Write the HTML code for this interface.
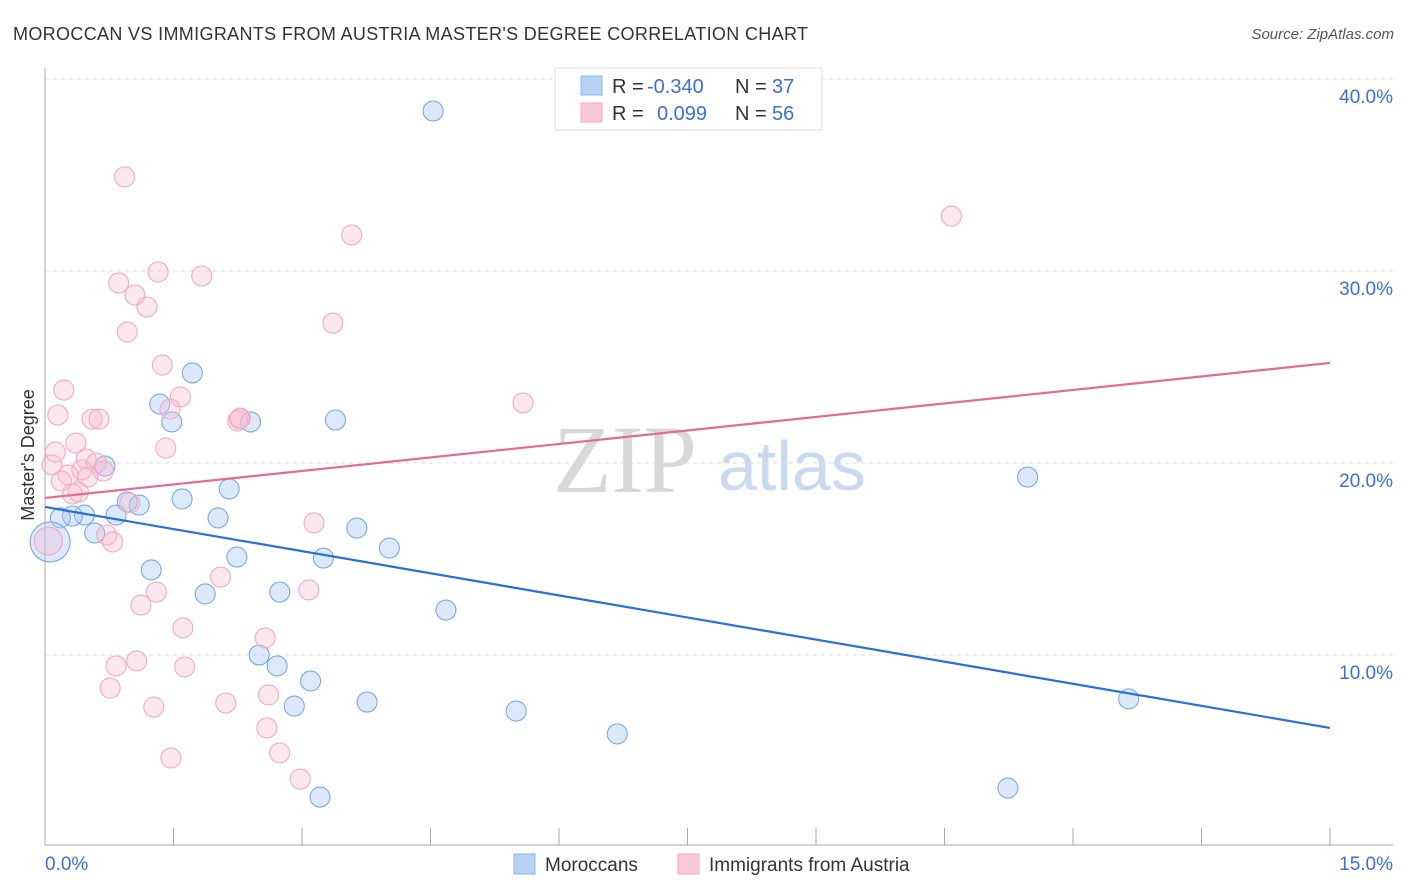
<!DOCTYPE html>
<html><head><meta charset="utf-8"><style>
body{margin:0;background:#fff;font-family:"Liberation Sans",sans-serif;}
svg{display:block}
</style></head><body>
<svg id="chart" width="1406" height="892" xmlns="http://www.w3.org/2000/svg" font-family="Liberation Sans, sans-serif">
<text x="13" y="40" font-size="18" fill="#333" textLength="795" lengthAdjust="spacing">MOROCCAN VS IMMIGRANTS FROM AUSTRIA MASTER'S DEGREE CORRELATION CHART</text>
<text x="1394" y="39" font-size="15" fill="#555" text-anchor="end" font-style="italic">Source: ZipAtlas.com</text>
<g>
<text x="553" y="492" font-size="96" font-family="Liberation Serif, serif" fill="#d8d8d8">ZIP</text>
<text x="718" y="490" font-size="70" fill="#c9daf0">atlas</text>
</g>
<g id="grid"></g>
<g id="axes"></g>
<g id="pts"></g>
<g id="lines"></g>
<g font-size="20">
<rect x="555" y="68" width="267" height="62" fill="#fff" stroke="#ddd"/>
<rect x="581" y="76" width="21" height="19" fill="#b8d2f4" stroke="#8fb4e8"/>
<rect x="581" y="103" width="21" height="19" fill="#fbc8d8" stroke="#f0a8c0"/>
<text x="612" y="93" fill="#333">R =</text>
<text x="647" y="93" fill="#3b6fd4">-0.340</text>
<text x="735" y="93" fill="#333">N =</text>
<text x="772" y="93" fill="#3b6fd4">37</text>
<text x="612" y="120" fill="#333">R =</text>
<text x="657" y="120" fill="#3b6fd4">0.099</text>
<text x="735" y="120" fill="#333">N =</text>
<text x="772" y="120" fill="#3b6fd4">56</text>
</g>
<g>
<rect x="514" y="854" width="21" height="20" fill="#b8d2f4" stroke="#8fb4e8"/>
<text x="545" y="871" font-size="19" fill="#333">Moroccans</text>
<rect x="678" y="854" width="21" height="20" fill="#fbc8d8" stroke="#f0a8c0"/>
<text x="709" y="871" font-size="19" fill="#333">Immigrants from Austria</text>
</g>
<text transform="translate(34,455) rotate(-90)" font-size="18" fill="#333" text-anchor="middle">Master's Degree</text>
</svg>
<script>
const yTicks=[10,20,30,40];
const yTickLabels=["10.0%","20.0%","30.0%","40.0%"];
const xTickLabels=["0.0%","15.0%"];
const blueX=[4.53,1.72,1.34,1.48,2.40,3.39,0.70,11.47,2.15,1.60,0.96,1.10,0.46,0.32,0.18,0.83,2.02,0.58,3.64,2.24,3.25,4.02,0.06,1.24,1.87,2.74,4.68,2.50,2.71,3.10,2.91,3.76,5.50,12.65,6.68,3.21,11.24];
const blueY=[38.33,24.69,23.07,22.14,22.14,22.24,19.84,19.27,18.65,18.13,17.97,17.81,17.29,17.24,17.14,17.29,17.14,16.35,16.61,15.10,15.05,15.57,15.89,14.43,13.18,13.28,12.34,10.00,9.43,8.65,7.34,7.55,7.08,7.71,5.89,2.60,3.07];
const pinkX=[0.93,10.58,3.58,1.32,1.83,0.86,1.05,1.19,3.36,0.96,1.37,0.22,1.58,5.58,1.46,0.15,0.55,0.63,2.28,2.25,0.36,1.41,0.12,0.08,0.48,0.60,0.43,0.68,0.27,0.50,0.19,0.39,0.32,0.99,3.14,0.72,0.79,0.04,2.05,3.08,1.30,1.12,1.61,2.57,1.07,0.83,1.63,0.76,2.61,2.11,1.27,2.59,2.74,1.47,2.98,2.27];
const pinkY=[34.90,32.86,31.88,29.95,29.74,29.38,28.75,28.13,27.29,26.82,25.10,23.80,23.44,23.13,22.81,22.50,22.29,22.29,22.34,22.19,21.04,20.78,20.57,19.90,20.21,20.00,19.64,19.58,19.38,19.27,19.06,18.49,18.39,17.92,16.88,16.25,15.89,15.94,14.06,13.39,13.28,12.60,11.41,10.89,9.69,9.43,9.38,8.28,7.92,7.50,7.29,6.20,4.90,4.64,3.54,22.30];
const blueTrend=[17.71,6.20];
const pinkTrend=[18.18,25.21];
const NS="http://www.w3.org/2000/svg";
const xs=v=>45+v*(1285/15);
const ys=v=>847-v*19.2;
function mk(p,t,a){const e=document.createElementNS(NS,t);for(const k in a)e.setAttribute(k,a[k]);p.appendChild(e);return e;}
const grid=document.getElementById('grid'),axes=document.getElementById('axes'),pts=document.getElementById('pts'),lines=document.getElementById('lines');
yTicks.forEach((t,i)=>{
 const l=mk(grid,'line',{x1:45,x2:1393,y1:ys(t),y2:ys(t),stroke:'#ddd','stroke-dasharray':'4,4'});
 
 
 const tx=mk(axes,'text',{x:1393,y:ys(t)+24,'font-size':19,fill:'#3b6fd4','text-anchor':'end'});
 tx.textContent=yTickLabels[i];
 
 
});
const ax=mk(axes,'line',{x1:45,x2:45,y1:68,y2:845,stroke:'#aaa'});


const bx=mk(axes,'line',{x1:45,x2:1393,y1:845,y2:845,stroke:'#aaa'});


for(let i=0;i<=10;i++){const x=xs(i*1.5);const t=mk(axes,'line',{x1:x,x2:x,y1:828,y2:845,stroke:'#aaa'});
 
 }
const xl0=mk(axes,'text',{x:45,y:870,'font-size':19,fill:'#3b6fd4'});xl0.textContent=xTickLabels[0];


const xl1=mk(axes,'text',{x:1393,y:870,'font-size':19,fill:'#3b6fd4','text-anchor':'end'});xl1.textContent=xTickLabels[1];


blueX.forEach((v,i)=>{const c=mk(pts,'circle',{cx:xs(v),cy:ys(blueY[i]),r:i==22?20:10,fill:'rgba(168,200,242,0.4)',stroke:'#7aa8e4','stroke-width':1.1});
 
 });
pinkX.forEach((v,i)=>{const c=mk(pts,'circle',{cx:xs(v),cy:ys(pinkY[i]),r:i==37?14:10,fill:'rgba(247,185,206,0.35)',stroke:'#f0aac2','stroke-width':1.1});
 
 });
const bl=mk(lines,'line',{x1:xs(0),x2:xs(15),y1:ys(blueTrend[0]),y2:ys(blueTrend[1]),stroke:'#2a6fd9','stroke-width':2.2});


const pl=mk(lines,'line',{x1:xs(0),x2:xs(15),y1:ys(pinkTrend[0]),y2:ys(pinkTrend[1]),stroke:'#e46a92','stroke-width':2.2});


</script>
</body></html>
